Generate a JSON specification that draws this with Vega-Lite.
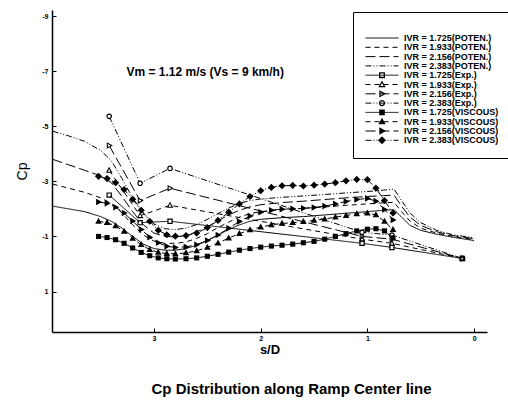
{
  "$schema": "https://vega.github.io/schema/vega-lite/v6.json",
  "width": 435,
  "height": 322,
  "autosize": {"type": "none"},
  "padding": {"left": 52, "top": 10, "right": 21, "bottom": 73},
  "background": "white",
  "config": {"view": {"stroke": null}, "font": "Liberation Sans"},
  "title": {"text": "Cp Distribution along Ramp Center line", "orient": "bottom", "fontSize": 15, "fontWeight": "bold", "font": "Liberation Sans", "color": "black", "offset": 26, "dx": 22},
  "datasets": {
    "curves": [
      {"series":"IVR = 1.725(POTEN.)","s":3.95,"cp":-2.1},{"series":"IVR = 1.725(POTEN.)","s":3.8,"cp":-2.0},{"series":"IVR = 1.725(POTEN.)","s":3.65,"cp":-1.9},{"series":"IVR = 1.725(POTEN.)","s":3.5,"cp":-1.72},{"series":"IVR = 1.725(POTEN.)","s":3.4,"cp":-1.55},{"series":"IVR = 1.725(POTEN.)","s":3.3,"cp":-1.3},{"series":"IVR = 1.725(POTEN.)","s":3.2,"cp":-1.0},{"series":"IVR = 1.725(POTEN.)","s":3.1,"cp":-0.72},{"series":"IVR = 1.725(POTEN.)","s":3.0,"cp":-0.56},{"series":"IVR = 1.725(POTEN.)","s":2.9,"cp":-0.5},{"series":"IVR = 1.725(POTEN.)","s":2.8,"cp":-0.5},{"series":"IVR = 1.725(POTEN.)","s":2.7,"cp":-0.56},{"series":"IVR = 1.725(POTEN.)","s":2.6,"cp":-0.68},{"series":"IVR = 1.725(POTEN.)","s":2.5,"cp":-0.85},{"series":"IVR = 1.725(POTEN.)","s":2.4,"cp":-1.05},{"series":"IVR = 1.725(POTEN.)","s":2.3,"cp":-1.25},{"series":"IVR = 1.725(POTEN.)","s":2.2,"cp":-1.42},{"series":"IVR = 1.725(POTEN.)","s":2.1,"cp":-1.55},{"series":"IVR = 1.725(POTEN.)","s":2.0,"cp":-1.62},{"series":"IVR = 1.725(POTEN.)","s":1.8,"cp":-1.68},{"series":"IVR = 1.725(POTEN.)","s":1.6,"cp":-1.72},{"series":"IVR = 1.725(POTEN.)","s":1.4,"cp":-1.78},{"series":"IVR = 1.725(POTEN.)","s":1.2,"cp":-1.84},{"series":"IVR = 1.725(POTEN.)","s":1.0,"cp":-1.9},{"series":"IVR = 1.725(POTEN.)","s":0.85,"cp":-1.95},{"series":"IVR = 1.725(POTEN.)","s":0.75,"cp":-1.97},{"series":"IVR = 1.725(POTEN.)","s":0.68,"cp":-1.7},{"series":"IVR = 1.725(POTEN.)","s":0.6,"cp":-1.4},{"series":"IVR = 1.725(POTEN.)","s":0.5,"cp":-1.22},{"series":"IVR = 1.725(POTEN.)","s":0.35,"cp":-1.08},{"series":"IVR = 1.725(POTEN.)","s":0.2,"cp":-0.97},{"series":"IVR = 1.725(POTEN.)","s":0.0,"cp":-0.85},

      {"series":"IVR = 1.933(POTEN.)","s":3.95,"cp":-2.9},{"series":"IVR = 1.933(POTEN.)","s":3.8,"cp":-2.75},{"series":"IVR = 1.933(POTEN.)","s":3.65,"cp":-2.6},{"series":"IVR = 1.933(POTEN.)","s":3.5,"cp":-2.4},{"series":"IVR = 1.933(POTEN.)","s":3.4,"cp":-2.2},{"series":"IVR = 1.933(POTEN.)","s":3.3,"cp":-1.85},{"series":"IVR = 1.933(POTEN.)","s":3.2,"cp":-1.42},{"series":"IVR = 1.933(POTEN.)","s":3.1,"cp":-1.05},{"series":"IVR = 1.933(POTEN.)","s":3.0,"cp":-0.83},{"series":"IVR = 1.933(POTEN.)","s":2.9,"cp":-0.75},{"series":"IVR = 1.933(POTEN.)","s":2.8,"cp":-0.75},{"series":"IVR = 1.933(POTEN.)","s":2.7,"cp":-0.8},{"series":"IVR = 1.933(POTEN.)","s":2.6,"cp":-0.93},{"series":"IVR = 1.933(POTEN.)","s":2.5,"cp":-1.1},{"series":"IVR = 1.933(POTEN.)","s":2.4,"cp":-1.32},{"series":"IVR = 1.933(POTEN.)","s":2.3,"cp":-1.52},{"series":"IVR = 1.933(POTEN.)","s":2.2,"cp":-1.7},{"series":"IVR = 1.933(POTEN.)","s":2.1,"cp":-1.83},{"series":"IVR = 1.933(POTEN.)","s":2.0,"cp":-1.9},{"series":"IVR = 1.933(POTEN.)","s":1.8,"cp":-1.97},{"series":"IVR = 1.933(POTEN.)","s":1.6,"cp":-2.02},{"series":"IVR = 1.933(POTEN.)","s":1.4,"cp":-2.07},{"series":"IVR = 1.933(POTEN.)","s":1.2,"cp":-2.13},{"series":"IVR = 1.933(POTEN.)","s":1.0,"cp":-2.18},{"series":"IVR = 1.933(POTEN.)","s":0.85,"cp":-2.22},{"series":"IVR = 1.933(POTEN.)","s":0.75,"cp":-2.24},{"series":"IVR = 1.933(POTEN.)","s":0.68,"cp":-1.9},{"series":"IVR = 1.933(POTEN.)","s":0.6,"cp":-1.55},{"series":"IVR = 1.933(POTEN.)","s":0.5,"cp":-1.3},{"series":"IVR = 1.933(POTEN.)","s":0.35,"cp":-1.12},{"series":"IVR = 1.933(POTEN.)","s":0.2,"cp":-1.0},{"series":"IVR = 1.933(POTEN.)","s":0.0,"cp":-0.88},

      {"series":"IVR = 2.156(POTEN.)","s":3.95,"cp":-3.8},{"series":"IVR = 2.156(POTEN.)","s":3.8,"cp":-3.6},{"series":"IVR = 2.156(POTEN.)","s":3.65,"cp":-3.4},{"series":"IVR = 2.156(POTEN.)","s":3.5,"cp":-3.2},{"series":"IVR = 2.156(POTEN.)","s":3.4,"cp":-2.95},{"series":"IVR = 2.156(POTEN.)","s":3.3,"cp":-2.45},{"series":"IVR = 2.156(POTEN.)","s":3.2,"cp":-1.9},{"series":"IVR = 2.156(POTEN.)","s":3.1,"cp":-1.42},{"series":"IVR = 2.156(POTEN.)","s":3.0,"cp":-1.12},{"series":"IVR = 2.156(POTEN.)","s":2.9,"cp":-1.0},{"series":"IVR = 2.156(POTEN.)","s":2.8,"cp":-0.98},{"series":"IVR = 2.156(POTEN.)","s":2.7,"cp":-1.03},{"series":"IVR = 2.156(POTEN.)","s":2.6,"cp":-1.17},{"series":"IVR = 2.156(POTEN.)","s":2.5,"cp":-1.35},{"series":"IVR = 2.156(POTEN.)","s":2.4,"cp":-1.57},{"series":"IVR = 2.156(POTEN.)","s":2.3,"cp":-1.78},{"series":"IVR = 2.156(POTEN.)","s":2.2,"cp":-1.95},{"series":"IVR = 2.156(POTEN.)","s":2.1,"cp":-2.07},{"series":"IVR = 2.156(POTEN.)","s":2.0,"cp":-2.15},{"series":"IVR = 2.156(POTEN.)","s":1.8,"cp":-2.23},{"series":"IVR = 2.156(POTEN.)","s":1.6,"cp":-2.28},{"series":"IVR = 2.156(POTEN.)","s":1.4,"cp":-2.34},{"series":"IVR = 2.156(POTEN.)","s":1.2,"cp":-2.4},{"series":"IVR = 2.156(POTEN.)","s":1.0,"cp":-2.45},{"series":"IVR = 2.156(POTEN.)","s":0.85,"cp":-2.48},{"series":"IVR = 2.156(POTEN.)","s":0.75,"cp":-2.5},{"series":"IVR = 2.156(POTEN.)","s":0.68,"cp":-2.1},{"series":"IVR = 2.156(POTEN.)","s":0.6,"cp":-1.7},{"series":"IVR = 2.156(POTEN.)","s":0.5,"cp":-1.4},{"series":"IVR = 2.156(POTEN.)","s":0.35,"cp":-1.17},{"series":"IVR = 2.156(POTEN.)","s":0.2,"cp":-1.03},{"series":"IVR = 2.156(POTEN.)","s":0.0,"cp":-0.92},

      {"series":"IVR = 2.383(POTEN.)","s":3.95,"cp":-4.82},{"series":"IVR = 2.383(POTEN.)","s":3.8,"cp":-4.65},{"series":"IVR = 2.383(POTEN.)","s":3.65,"cp":-4.45},{"series":"IVR = 2.383(POTEN.)","s":3.5,"cp":-4.12},{"series":"IVR = 2.383(POTEN.)","s":3.4,"cp":-3.75},{"series":"IVR = 2.383(POTEN.)","s":3.3,"cp":-3.1},{"series":"IVR = 2.383(POTEN.)","s":3.2,"cp":-2.4},{"series":"IVR = 2.383(POTEN.)","s":3.1,"cp":-1.85},{"series":"IVR = 2.383(POTEN.)","s":3.0,"cp":-1.45},{"series":"IVR = 2.383(POTEN.)","s":2.9,"cp":-1.28},{"series":"IVR = 2.383(POTEN.)","s":2.8,"cp":-1.25},{"series":"IVR = 2.383(POTEN.)","s":2.7,"cp":-1.3},{"series":"IVR = 2.383(POTEN.)","s":2.6,"cp":-1.43},{"series":"IVR = 2.383(POTEN.)","s":2.5,"cp":-1.62},{"series":"IVR = 2.383(POTEN.)","s":2.4,"cp":-1.83},{"series":"IVR = 2.383(POTEN.)","s":2.3,"cp":-2.03},{"series":"IVR = 2.383(POTEN.)","s":2.2,"cp":-2.2},{"series":"IVR = 2.383(POTEN.)","s":2.1,"cp":-2.3},{"series":"IVR = 2.383(POTEN.)","s":2.0,"cp":-2.36},{"series":"IVR = 2.383(POTEN.)","s":1.8,"cp":-2.42},{"series":"IVR = 2.383(POTEN.)","s":1.6,"cp":-2.47},{"series":"IVR = 2.383(POTEN.)","s":1.4,"cp":-2.52},{"series":"IVR = 2.383(POTEN.)","s":1.2,"cp":-2.58},{"series":"IVR = 2.383(POTEN.)","s":1.0,"cp":-2.63},{"series":"IVR = 2.383(POTEN.)","s":0.85,"cp":-2.68},{"series":"IVR = 2.383(POTEN.)","s":0.75,"cp":-2.72},{"series":"IVR = 2.383(POTEN.)","s":0.68,"cp":-2.3},{"series":"IVR = 2.383(POTEN.)","s":0.6,"cp":-1.85},{"series":"IVR = 2.383(POTEN.)","s":0.5,"cp":-1.5},{"series":"IVR = 2.383(POTEN.)","s":0.35,"cp":-1.22},{"series":"IVR = 2.383(POTEN.)","s":0.2,"cp":-1.06},{"series":"IVR = 2.383(POTEN.)","s":0.0,"cp":-0.95},

      {"series":"IVR = 1.725(Exp.)","s":3.42,"cp":-2.5},{"series":"IVR = 1.725(Exp.)","s":3.13,"cp":-1.5},{"series":"IVR = 1.725(Exp.)","s":2.85,"cp":-1.55},{"series":"IVR = 1.725(Exp.)","s":1.05,"cp":-0.75},{"series":"IVR = 1.725(Exp.)","s":0.77,"cp":-0.6},{"series":"IVR = 1.725(Exp.)","s":0.11,"cp":-0.2},
      {"series":"IVR = 1.933(Exp.)","s":3.42,"cp":-3.4},{"series":"IVR = 1.933(Exp.)","s":3.13,"cp":-1.75},{"series":"IVR = 1.933(Exp.)","s":2.85,"cp":-2.13},{"series":"IVR = 1.933(Exp.)","s":1.05,"cp":-0.9},{"series":"IVR = 1.933(Exp.)","s":0.77,"cp":-0.75},{"series":"IVR = 1.933(Exp.)","s":0.11,"cp":-0.2},
      {"series":"IVR = 2.156(Exp.)","s":3.42,"cp":-4.3},{"series":"IVR = 2.156(Exp.)","s":3.13,"cp":-2.3},{"series":"IVR = 2.156(Exp.)","s":2.85,"cp":-2.75},{"series":"IVR = 2.156(Exp.)","s":1.05,"cp":-1.0},{"series":"IVR = 2.156(Exp.)","s":0.77,"cp":-0.9},{"series":"IVR = 2.156(Exp.)","s":0.11,"cp":-0.2},
      {"series":"IVR = 2.383(Exp.)","s":3.42,"cp":-5.36},{"series":"IVR = 2.383(Exp.)","s":3.13,"cp":-2.93},{"series":"IVR = 2.383(Exp.)","s":2.85,"cp":-3.47},{"series":"IVR = 2.383(Exp.)","s":1.05,"cp":-1.15},{"series":"IVR = 2.383(Exp.)","s":0.77,"cp":-1.05},{"series":"IVR = 2.383(Exp.)","s":0.11,"cp":-0.2},

      {"series":"IVR = 1.725(VISCOUS)","s":3.52,"cp":-1.0},{"series":"IVR = 1.725(VISCOUS)","s":3.44,"cp":-0.96},{"series":"IVR = 1.725(VISCOUS)","s":3.36,"cp":-0.88},{"series":"IVR = 1.725(VISCOUS)","s":3.28,"cp":-0.75},{"series":"IVR = 1.725(VISCOUS)","s":3.2,"cp":-0.58},{"series":"IVR = 1.725(VISCOUS)","s":3.12,"cp":-0.42},{"series":"IVR = 1.725(VISCOUS)","s":3.04,"cp":-0.3},{"series":"IVR = 1.725(VISCOUS)","s":2.96,"cp":-0.22},{"series":"IVR = 1.725(VISCOUS)","s":2.88,"cp":-0.19},{"series":"IVR = 1.725(VISCOUS)","s":2.8,"cp":-0.18},{"series":"IVR = 1.725(VISCOUS)","s":2.7,"cp":-0.19},{"series":"IVR = 1.725(VISCOUS)","s":2.6,"cp":-0.22},{"series":"IVR = 1.725(VISCOUS)","s":2.5,"cp":-0.28},{"series":"IVR = 1.725(VISCOUS)","s":2.4,"cp":-0.35},{"series":"IVR = 1.725(VISCOUS)","s":2.3,"cp":-0.43},{"series":"IVR = 1.725(VISCOUS)","s":2.2,"cp":-0.5},{"series":"IVR = 1.725(VISCOUS)","s":2.1,"cp":-0.56},{"series":"IVR = 1.725(VISCOUS)","s":2.0,"cp":-0.61},{"series":"IVR = 1.725(VISCOUS)","s":1.9,"cp":-0.65},{"series":"IVR = 1.725(VISCOUS)","s":1.8,"cp":-0.68},{"series":"IVR = 1.725(VISCOUS)","s":1.7,"cp":-0.72},{"series":"IVR = 1.725(VISCOUS)","s":1.6,"cp":-0.77},{"series":"IVR = 1.725(VISCOUS)","s":1.5,"cp":-0.82},{"series":"IVR = 1.725(VISCOUS)","s":1.4,"cp":-0.9},{"series":"IVR = 1.725(VISCOUS)","s":1.3,"cp":-1.0},{"series":"IVR = 1.725(VISCOUS)","s":1.2,"cp":-1.1},{"series":"IVR = 1.725(VISCOUS)","s":1.1,"cp":-1.2},{"series":"IVR = 1.725(VISCOUS)","s":1.0,"cp":-1.26},{"series":"IVR = 1.725(VISCOUS)","s":0.92,"cp":-1.28},{"series":"IVR = 1.725(VISCOUS)","s":0.84,"cp":-1.2},{"series":"IVR = 1.725(VISCOUS)","s":0.76,"cp":-0.95},

      {"series":"IVR = 1.933(VISCOUS)","s":3.52,"cp":-1.55},{"series":"IVR = 1.933(VISCOUS)","s":3.44,"cp":-1.5},{"series":"IVR = 1.933(VISCOUS)","s":3.36,"cp":-1.38},{"series":"IVR = 1.933(VISCOUS)","s":3.28,"cp":-1.18},{"series":"IVR = 1.933(VISCOUS)","s":3.2,"cp":-0.93},{"series":"IVR = 1.933(VISCOUS)","s":3.12,"cp":-0.7},{"series":"IVR = 1.933(VISCOUS)","s":3.04,"cp":-0.52},{"series":"IVR = 1.933(VISCOUS)","s":2.96,"cp":-0.42},{"series":"IVR = 1.933(VISCOUS)","s":2.88,"cp":-0.38},{"series":"IVR = 1.933(VISCOUS)","s":2.8,"cp":-0.37},{"series":"IVR = 1.933(VISCOUS)","s":2.7,"cp":-0.4},{"series":"IVR = 1.933(VISCOUS)","s":2.6,"cp":-0.48},{"series":"IVR = 1.933(VISCOUS)","s":2.5,"cp":-0.6},{"series":"IVR = 1.933(VISCOUS)","s":2.4,"cp":-0.76},{"series":"IVR = 1.933(VISCOUS)","s":2.3,"cp":-0.94},{"series":"IVR = 1.933(VISCOUS)","s":2.2,"cp":-1.1},{"series":"IVR = 1.933(VISCOUS)","s":2.1,"cp":-1.24},{"series":"IVR = 1.933(VISCOUS)","s":2.0,"cp":-1.34},{"series":"IVR = 1.933(VISCOUS)","s":1.9,"cp":-1.42},{"series":"IVR = 1.933(VISCOUS)","s":1.8,"cp":-1.47},{"series":"IVR = 1.933(VISCOUS)","s":1.7,"cp":-1.5},{"series":"IVR = 1.933(VISCOUS)","s":1.6,"cp":-1.54},{"series":"IVR = 1.933(VISCOUS)","s":1.5,"cp":-1.58},{"series":"IVR = 1.933(VISCOUS)","s":1.4,"cp":-1.63},{"series":"IVR = 1.933(VISCOUS)","s":1.3,"cp":-1.7},{"series":"IVR = 1.933(VISCOUS)","s":1.2,"cp":-1.76},{"series":"IVR = 1.933(VISCOUS)","s":1.1,"cp":-1.82},{"series":"IVR = 1.933(VISCOUS)","s":1.0,"cp":-1.85},{"series":"IVR = 1.933(VISCOUS)","s":0.92,"cp":-1.78},{"series":"IVR = 1.933(VISCOUS)","s":0.84,"cp":-1.55},{"series":"IVR = 1.933(VISCOUS)","s":0.76,"cp":-1.25},

      {"series":"IVR = 2.156(VISCOUS)","s":3.52,"cp":-2.25},{"series":"IVR = 2.156(VISCOUS)","s":3.44,"cp":-2.2},{"series":"IVR = 2.156(VISCOUS)","s":3.36,"cp":-2.06},{"series":"IVR = 2.156(VISCOUS)","s":3.28,"cp":-1.85},{"series":"IVR = 2.156(VISCOUS)","s":3.2,"cp":-1.56},{"series":"IVR = 2.156(VISCOUS)","s":3.12,"cp":-1.25},{"series":"IVR = 2.156(VISCOUS)","s":3.04,"cp":-0.97},{"series":"IVR = 2.156(VISCOUS)","s":2.96,"cp":-0.77},{"series":"IVR = 2.156(VISCOUS)","s":2.88,"cp":-0.64},{"series":"IVR = 2.156(VISCOUS)","s":2.8,"cp":-0.6},{"series":"IVR = 2.156(VISCOUS)","s":2.7,"cp":-0.62},{"series":"IVR = 2.156(VISCOUS)","s":2.6,"cp":-0.7},{"series":"IVR = 2.156(VISCOUS)","s":2.5,"cp":-0.85},{"series":"IVR = 2.156(VISCOUS)","s":2.4,"cp":-1.05},{"series":"IVR = 2.156(VISCOUS)","s":2.3,"cp":-1.3},{"series":"IVR = 2.156(VISCOUS)","s":2.2,"cp":-1.54},{"series":"IVR = 2.156(VISCOUS)","s":2.1,"cp":-1.74},{"series":"IVR = 2.156(VISCOUS)","s":2.0,"cp":-1.88},{"series":"IVR = 2.156(VISCOUS)","s":1.9,"cp":-1.95},{"series":"IVR = 2.156(VISCOUS)","s":1.8,"cp":-1.99},{"series":"IVR = 2.156(VISCOUS)","s":1.7,"cp":-2.0},{"series":"IVR = 2.156(VISCOUS)","s":1.6,"cp":-2.02},{"series":"IVR = 2.156(VISCOUS)","s":1.5,"cp":-2.05},{"series":"IVR = 2.156(VISCOUS)","s":1.4,"cp":-2.1},{"series":"IVR = 2.156(VISCOUS)","s":1.3,"cp":-2.18},{"series":"IVR = 2.156(VISCOUS)","s":1.2,"cp":-2.27},{"series":"IVR = 2.156(VISCOUS)","s":1.1,"cp":-2.34},{"series":"IVR = 2.156(VISCOUS)","s":1.0,"cp":-2.38},{"series":"IVR = 2.156(VISCOUS)","s":0.92,"cp":-2.28},{"series":"IVR = 2.156(VISCOUS)","s":0.84,"cp":-1.98},{"series":"IVR = 2.156(VISCOUS)","s":0.76,"cp":-1.6},

      {"series":"IVR = 2.383(VISCOUS)","s":3.52,"cp":-3.18},{"series":"IVR = 2.383(VISCOUS)","s":3.44,"cp":-3.1},{"series":"IVR = 2.383(VISCOUS)","s":3.36,"cp":-2.95},{"series":"IVR = 2.383(VISCOUS)","s":3.28,"cp":-2.7},{"series":"IVR = 2.383(VISCOUS)","s":3.2,"cp":-2.35},{"series":"IVR = 2.383(VISCOUS)","s":3.12,"cp":-1.95},{"series":"IVR = 2.383(VISCOUS)","s":3.04,"cp":-1.55},{"series":"IVR = 2.383(VISCOUS)","s":2.96,"cp":-1.22},{"series":"IVR = 2.383(VISCOUS)","s":2.88,"cp":-1.06},{"series":"IVR = 2.383(VISCOUS)","s":2.8,"cp":-1.01},{"series":"IVR = 2.383(VISCOUS)","s":2.7,"cp":-1.03},{"series":"IVR = 2.383(VISCOUS)","s":2.6,"cp":-1.12},{"series":"IVR = 2.383(VISCOUS)","s":2.5,"cp":-1.32},{"series":"IVR = 2.383(VISCOUS)","s":2.4,"cp":-1.58},{"series":"IVR = 2.383(VISCOUS)","s":2.3,"cp":-1.88},{"series":"IVR = 2.383(VISCOUS)","s":2.2,"cp":-2.18},{"series":"IVR = 2.383(VISCOUS)","s":2.1,"cp":-2.45},{"series":"IVR = 2.383(VISCOUS)","s":2.0,"cp":-2.66},{"series":"IVR = 2.383(VISCOUS)","s":1.9,"cp":-2.78},{"series":"IVR = 2.383(VISCOUS)","s":1.8,"cp":-2.84},{"series":"IVR = 2.383(VISCOUS)","s":1.7,"cp":-2.85},{"series":"IVR = 2.383(VISCOUS)","s":1.6,"cp":-2.83},{"series":"IVR = 2.383(VISCOUS)","s":1.5,"cp":-2.86},{"series":"IVR = 2.383(VISCOUS)","s":1.4,"cp":-2.9},{"series":"IVR = 2.383(VISCOUS)","s":1.3,"cp":-2.95},{"series":"IVR = 2.383(VISCOUS)","s":1.2,"cp":-3.02},{"series":"IVR = 2.383(VISCOUS)","s":1.1,"cp":-3.07},{"series":"IVR = 2.383(VISCOUS)","s":1.0,"cp":-3.06},{"series":"IVR = 2.383(VISCOUS)","s":0.92,"cp":-2.75},{"series":"IVR = 2.383(VISCOUS)","s":0.84,"cp":-2.3},{"series":"IVR = 2.383(VISCOUS)","s":0.76,"cp":-1.85}
    ],
    "note": [{"label": "Vm = 1.12 m/s (Vs = 9 km/h)"}]
  },
  "layer": [
    {
      "data": {"name": "curves"},
      "mark": {"type": "line", "color": "black", "strokeWidth": 1},
      "encoding": {
        "x": {"field": "s", "type": "quantitative", "title": "s/D",
          "scale": {"domain": [-0.121, 3.956], "reverse": true, "nice": false, "zero": false},
          "axis": {"values": [0, 1, 2, 3], "format": "d", "grid": false, "domainColor": "black", "domainWidth": 1.5, "tickColor": "black", "tickSize": -4, "labelFontSize": 7, "labelFontWeight": "bold", "labelColor": "black", "labelPadding": 6, "titleFontSize": 13, "titleFontWeight": "bold", "titleColor": "black", "titlePadding": 2}},
        "y": {"field": "cp", "type": "quantitative", "title": "Cp",
          "scale": {"domain": [-9.22, 2.47], "reverse": true, "nice": false, "zero": false},
          "axis": {"values": [-9, -8, -7, -6, -5, -4, -3, -2, -1, 0, 1, 2], "labelExpr": "'' + datum.value", "grid": false, "domainColor": "black", "domainWidth": 1.5, "tickColor": "black", "tickSize": -4, "labelFontSize": 7, "labelFontWeight": "bold", "labelColor": "black", "labelPadding": 8, "titleFontSize": 14, "titleFontWeight": "normal", "titleColor": "black", "titlePadding": 12}},
        "strokeDash": {"field": "series", "type": "nominal",
          "sort": ["IVR = 1.725(POTEN.)", "IVR = 1.933(POTEN.)", "IVR = 2.156(POTEN.)", "IVR = 2.383(POTEN.)", "IVR = 1.725(Exp.)", "IVR = 1.933(Exp.)", "IVR = 2.156(Exp.)", "IVR = 2.383(Exp.)", "IVR = 1.725(VISCOUS)", "IVR = 1.933(VISCOUS)", "IVR = 2.156(VISCOUS)", "IVR = 2.383(VISCOUS)"],
          "scale": {
            "range": [[1, 0], [5, 4], [10, 4], [6, 2, 1, 2, 1, 2], [1, 0], [5, 4], [10, 4], [6, 2, 1, 2, 1, 2], [1, 0], [5, 4], [10, 4], [6, 2, 1, 2, 1, 2]]
          },
          "legend": {
            "orient": "none", "legendX": 301, "legendY": 2, "title": " ", "titleFontSize": 6, "titlePadding": 4, "padding": 12, "zindex": 0,
            "strokeColor": "black", "fillColor": "transparent", "symbolSize": 1089, "symbolType": "stroke", "symbolStrokeColor": "black", "symbolStrokeWidth": 1, "clipHeight": 8, "rowPadding": 0.3,
            "labelFontSize": 9, "labelFont": "Liberation Sans", "labelFontWeight": "bold", "labelColor": "black", "labelOffset": 5, "labelLimit": 200
          }
        }
      }
    },
    {
      "data": {"name": "curves"},
      "transform": [{"filter": "indexof(datum.series, 'Exp') >= 0"}],
      "mark": {"type": "circle", "color": "white", "size": 10, "opacity": 1},
      "encoding": {
        "x": {"field": "s", "type": "quantitative"},
        "y": {"field": "cp", "type": "quantitative"}
      }
    },
    {
      "data": {"name": "curves"},
      "mark": {"type": "point", "filled": true, "color": "black", "strokeWidth": 0, "size": 900, "opacity": 1},
      "encoding": {
        "x": {"field": "s", "type": "quantitative"},
        "y": {"field": "cp", "type": "quantitative"},
        "shape": {"field": "series", "type": "nominal",
          "scale": {
            "domain": ["IVR = 1.725(POTEN.)", "IVR = 1.933(POTEN.)", "IVR = 2.156(POTEN.)", "IVR = 2.383(POTEN.)", "IVR = 1.725(Exp.)", "IVR = 1.933(Exp.)", "IVR = 2.156(Exp.)", "IVR = 2.383(Exp.)", "IVR = 1.725(VISCOUS)", "IVR = 1.933(VISCOUS)", "IVR = 2.156(VISCOUS)", "IVR = 2.383(VISCOUS)"],
            "range": ["M0,0", "M0,0", "M0,0", "M0,0",
              "M-0.18,-0.18H0.18V0.18H-0.18ZM-0.1,-0.1V0.1H0.1V-0.1Z",
              "M0,-0.24L0.22,0.16H-0.22ZM0,-0.095L-0.1,0.09H0.1Z",
              "M-0.16,-0.22L0.24,0L-0.16,0.22ZM-0.09,-0.1V0.1L0.095,0Z",
              "M-0.19,0A0.19,0.19,0,1,1,0.19,0A0.19,0.19,0,1,1,-0.19,0ZM-0.11,0A0.11,0.11,0,1,0,0.11,0A0.11,0.11,0,1,0,-0.11,0Z",
              "M-0.17,-0.17H0.17V0.17H-0.17Z",
              "M0,-0.24L0.22,0.16H-0.22Z",
              "M-0.16,-0.22L0.24,0L-0.16,0.22Z",
              "M0,-0.24L0.24,0L0,0.24L-0.24,0Z"]
          },
          "legend": {
            "orient": "none", "legendX": 301, "legendY": 2, "title": " ", "titleFontSize": 6, "titlePadding": 4, "padding": 12, "zindex": 1,
            "strokeColor": "transparent", "fillColor": "transparent", "symbolSize": 1089, "symbolFillColor": "black", "symbolStrokeColor": "transparent", "symbolStrokeWidth": 1, "clipHeight": 8, "rowPadding": 0.3,
            "labelFontSize": 9, "labelFont": "Liberation Sans", "labelFontWeight": "bold", "labelColor": "transparent", "labelOpacity": 0, "labelOffset": 5, "labelLimit": 200
          }}
      }
    },
    {
      "data": {"name": "note"},
      "mark": {"type": "text", "fontSize": 12, "fontWeight": "bold", "font": "Liberation Sans", "color": "black"},
      "encoding": {
        "x": {"datum": 2.52, "type": "quantitative"},
        "y": {"datum": -6.96, "type": "quantitative"},
        "text": {"field": "label"}
      }
    }
  ]
}
